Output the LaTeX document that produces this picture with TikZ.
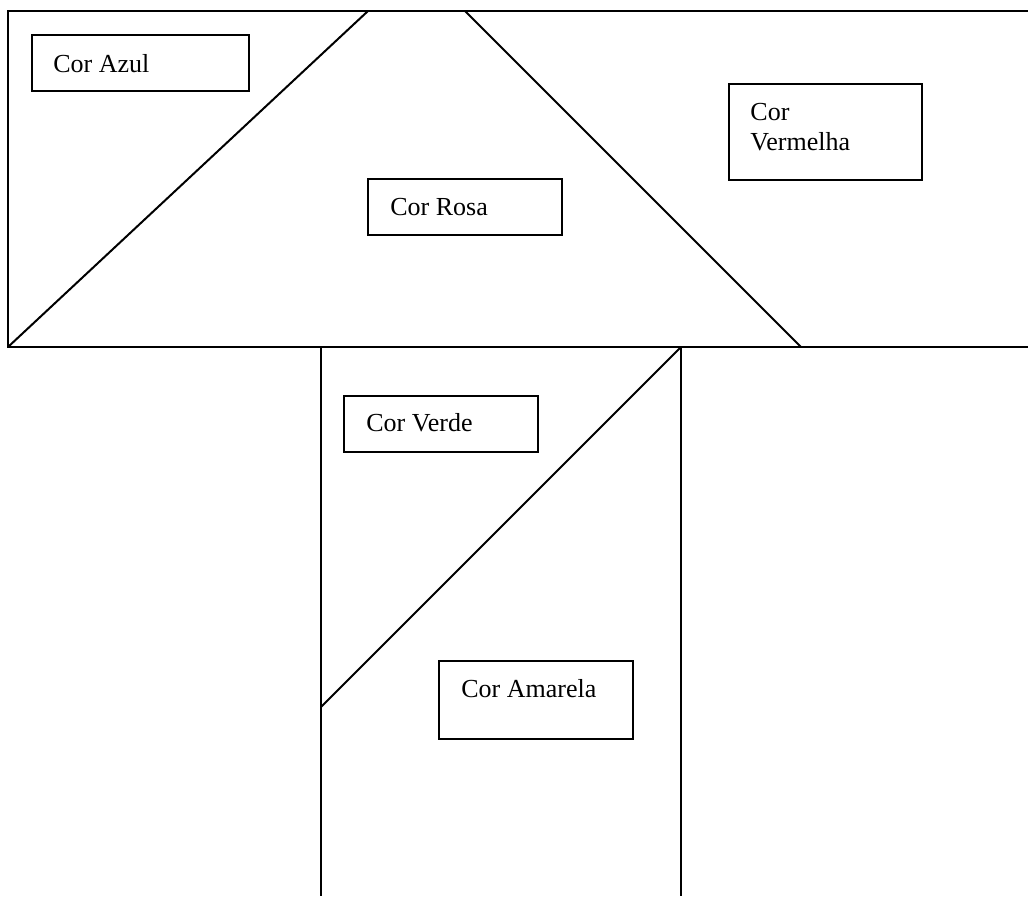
\documentclass[tikz,border=0pt]{standalone}
\usepackage{fontspec}
\setmainfont{Liberation Serif}
\begin{document}
\begin{tikzpicture}[x=0.5pt,y=-0.5pt,
  edge/.style={line width=1pt, black},
  cbox/.style={draw, line width=1pt, inner sep=0pt},
  lbl/.style={anchor=base west, inner sep=0pt, font=\fontsize{13}{15}\selectfont, align=left}]
\useasboundingbox (0,0) rectangle (1028,896);
% top part
\coordinate (tl) at (8,11);
\coordinate (tr) at (1028,11);
\coordinate (bl) at (8,347);
\coordinate (br) at (1028,347);
\coordinate (apexL) at (368,11);
\coordinate (apexR) at (465,11);
\coordinate (footR) at (801,347);
\draw[edge] (tr) -- (tl) -- (bl) -- (br);
\draw[edge] (bl) -- (apexL);
\draw[edge] (apexR) -- (footR);
% bottom part
\coordinate (sl) at (321,347);
\coordinate (sr) at (681,347);
\coordinate (sbl) at (321,896);
\coordinate (sbr) at (681,896);
\coordinate (dg) at (321,707);
\draw[edge] (sl) -- (sbl);
\draw[edge] (sr) -- (sbr);
\draw[edge] (sr) -- (dg);
% boxes
\draw[cbox] (32,35) rectangle (249,91);
\node[lbl] (azul) at (53,72) {Cor Azul};
\draw[cbox] (368,179) rectangle (562,235);
\node[lbl] (rosa) at (390,215) {Cor Rosa};
\draw[cbox] (729,84) rectangle (922,180);
\node[lbl] (verm1) at (750,120) {Cor};
\node[lbl] (verm2) at (750,150) {Vermelha};
\draw[cbox] (344,396) rectangle (538,452);
\node[lbl] (verde) at (366,431) {Cor Verde};
\draw[cbox] (439,661) rectangle (633,739);
\node[lbl] (amarela) at (461,697) {Cor Amarela};
\end{tikzpicture}
\end{document}
